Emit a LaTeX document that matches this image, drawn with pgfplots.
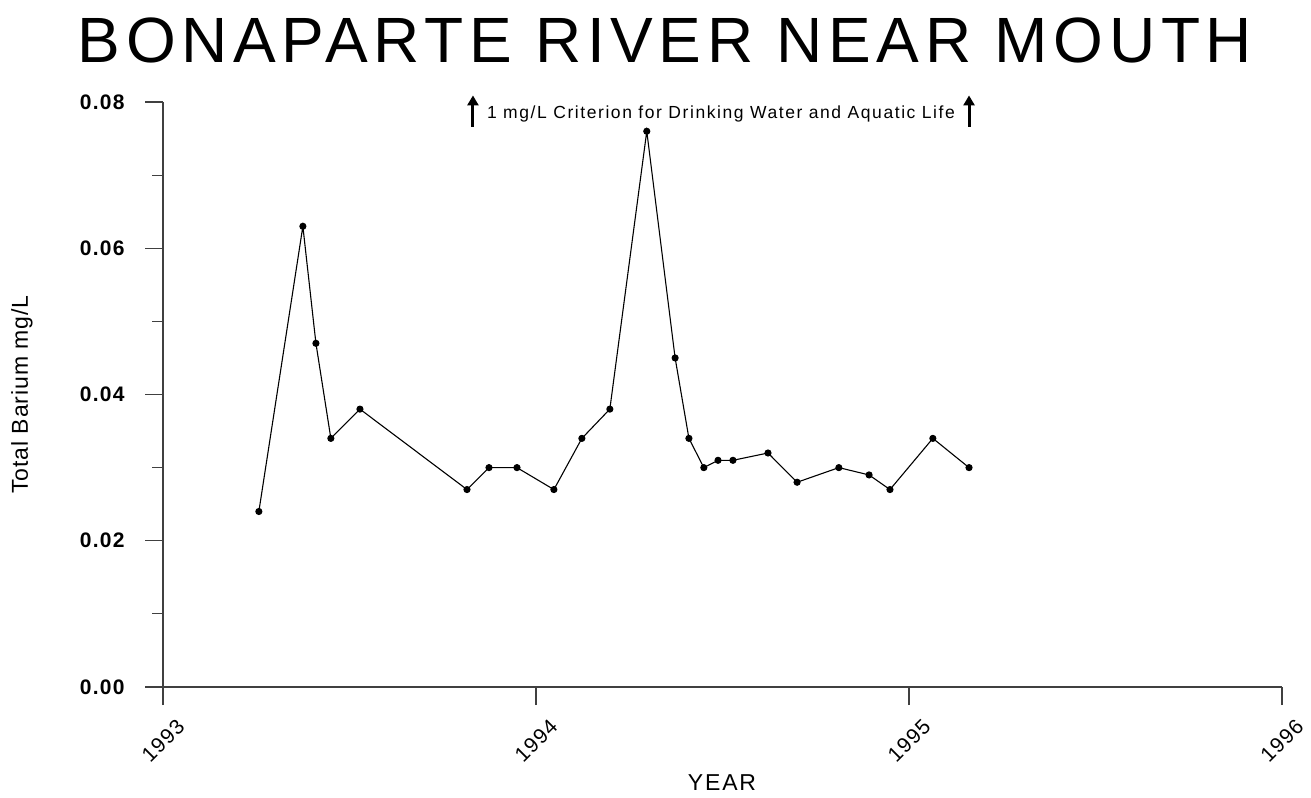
\documentclass[border=0pt]{standalone}
\usepackage{pgfplots}
\pgfplotsset{compat=1.18}
\usetikzlibrary{arrows.meta}
\usepackage{fontspec}
\setmainfont{Liberation Sans}

\begin{document}
\begin{tikzpicture}
\useasboundingbox (0,0) rectangle (1311bp,798bp);
\node[anchor=base, inner sep=0pt, font=\fontsize{64bp}{70bp}\selectfont\addfontfeature{LetterSpace=8.8}]
  at (665bp,735bp) {BONAPARTE RIVER NEAR MOUTH};
\begin{axis}[
    at={(163bp,111bp)}, anchor=south west,
    scale only axis, width=1119bp, height=585bp,
    xmin=1993, xmax=1996, ymin=0, ymax=0.08,
    axis x line*=bottom, axis y line*=left,
    axis line style={-, black!75, line width=1.2bp},
    xtick={1993,1994,1995,1996},
    ytick={0,0.02,0.04,0.06,0.08},
    minor ytick={0.01,0.03,0.05,0.07},
    tick align=outside,
    major tick length=18bp, minor tick length=11bp,
    every tick/.style={black!75, line width=1.2bp},
    scaled y ticks=false,
    /pgf/number format/assume math mode=true,
    xticklabel style={/pgf/number format/1000 sep={}, anchor=center, yshift=-36bp, rotate=45,
      font=\fontsize{21bp}{23bp}\selectfont\addfontfeature{LetterSpace=6}},
    yticklabel style={/pgf/number format/.cd, fixed, fixed zerofill, precision=2,
      /tikz/.cd, anchor=east, xshift=-17bp,
      font=\fontsize{21bp}{23bp}\selectfont\bfseries\addfontfeature{LetterSpace=6}},
    xlabel={YEAR},
    ylabel={Total Barium mg/L},
    xlabel style={at={(axis description cs:0.4996,-0.164)}, anchor=center,
      font=\fontsize{23bp}{25bp}\selectfont\addfontfeature{LetterSpace=8}},
    ylabel style={at={(axis description cs:-0.126,0.5)}, anchor=center,
      font=\fontsize{23bp}{25bp}\selectfont\addfontfeature{LetterSpace=4}},
    clip=false,
]
\addplot[black, line width=1.1bp, mark=*, mark size=3bp] coordinates {
(1993.257,0.024)
(1993.375,0.063)
(1993.410,0.047)
(1993.450,0.034)
(1993.528,0.038)
(1993.815,0.027)
(1993.874,0.030)
(1993.949,0.030)
(1994.048,0.027)
(1994.123,0.034)
(1994.198,0.038)
(1994.297,0.076)
(1994.373,0.045)
(1994.410,0.034)
(1994.450,0.030)
(1994.488,0.031)
(1994.528,0.031)
(1994.622,0.032)
(1994.700,0.028)
(1994.812,0.030)
(1994.893,0.029)
(1994.949,0.027)
(1995.064,0.034)
(1995.161,0.030)
};
\draw[line width=3bp, -{Triangle[width=11bp,length=10bp]}] (axis cs:1993.831,0.0766) -- (axis cs:1993.831,0.0809);
\draw[line width=3bp, -{Triangle[width=11bp,length=10bp]}] (axis cs:1995.161,0.0766) -- (axis cs:1995.161,0.0809);
\node[anchor=base, inner sep=0pt, font=\fontsize{17.5bp}{19bp}\selectfont\addfontfeature{LetterSpace=9}]
  at (axis cs:1994.496,0.0778) {1 mg/L Criterion for Drinking Water and Aquatic Life};
\end{axis}
\end{tikzpicture}
\end{document}
